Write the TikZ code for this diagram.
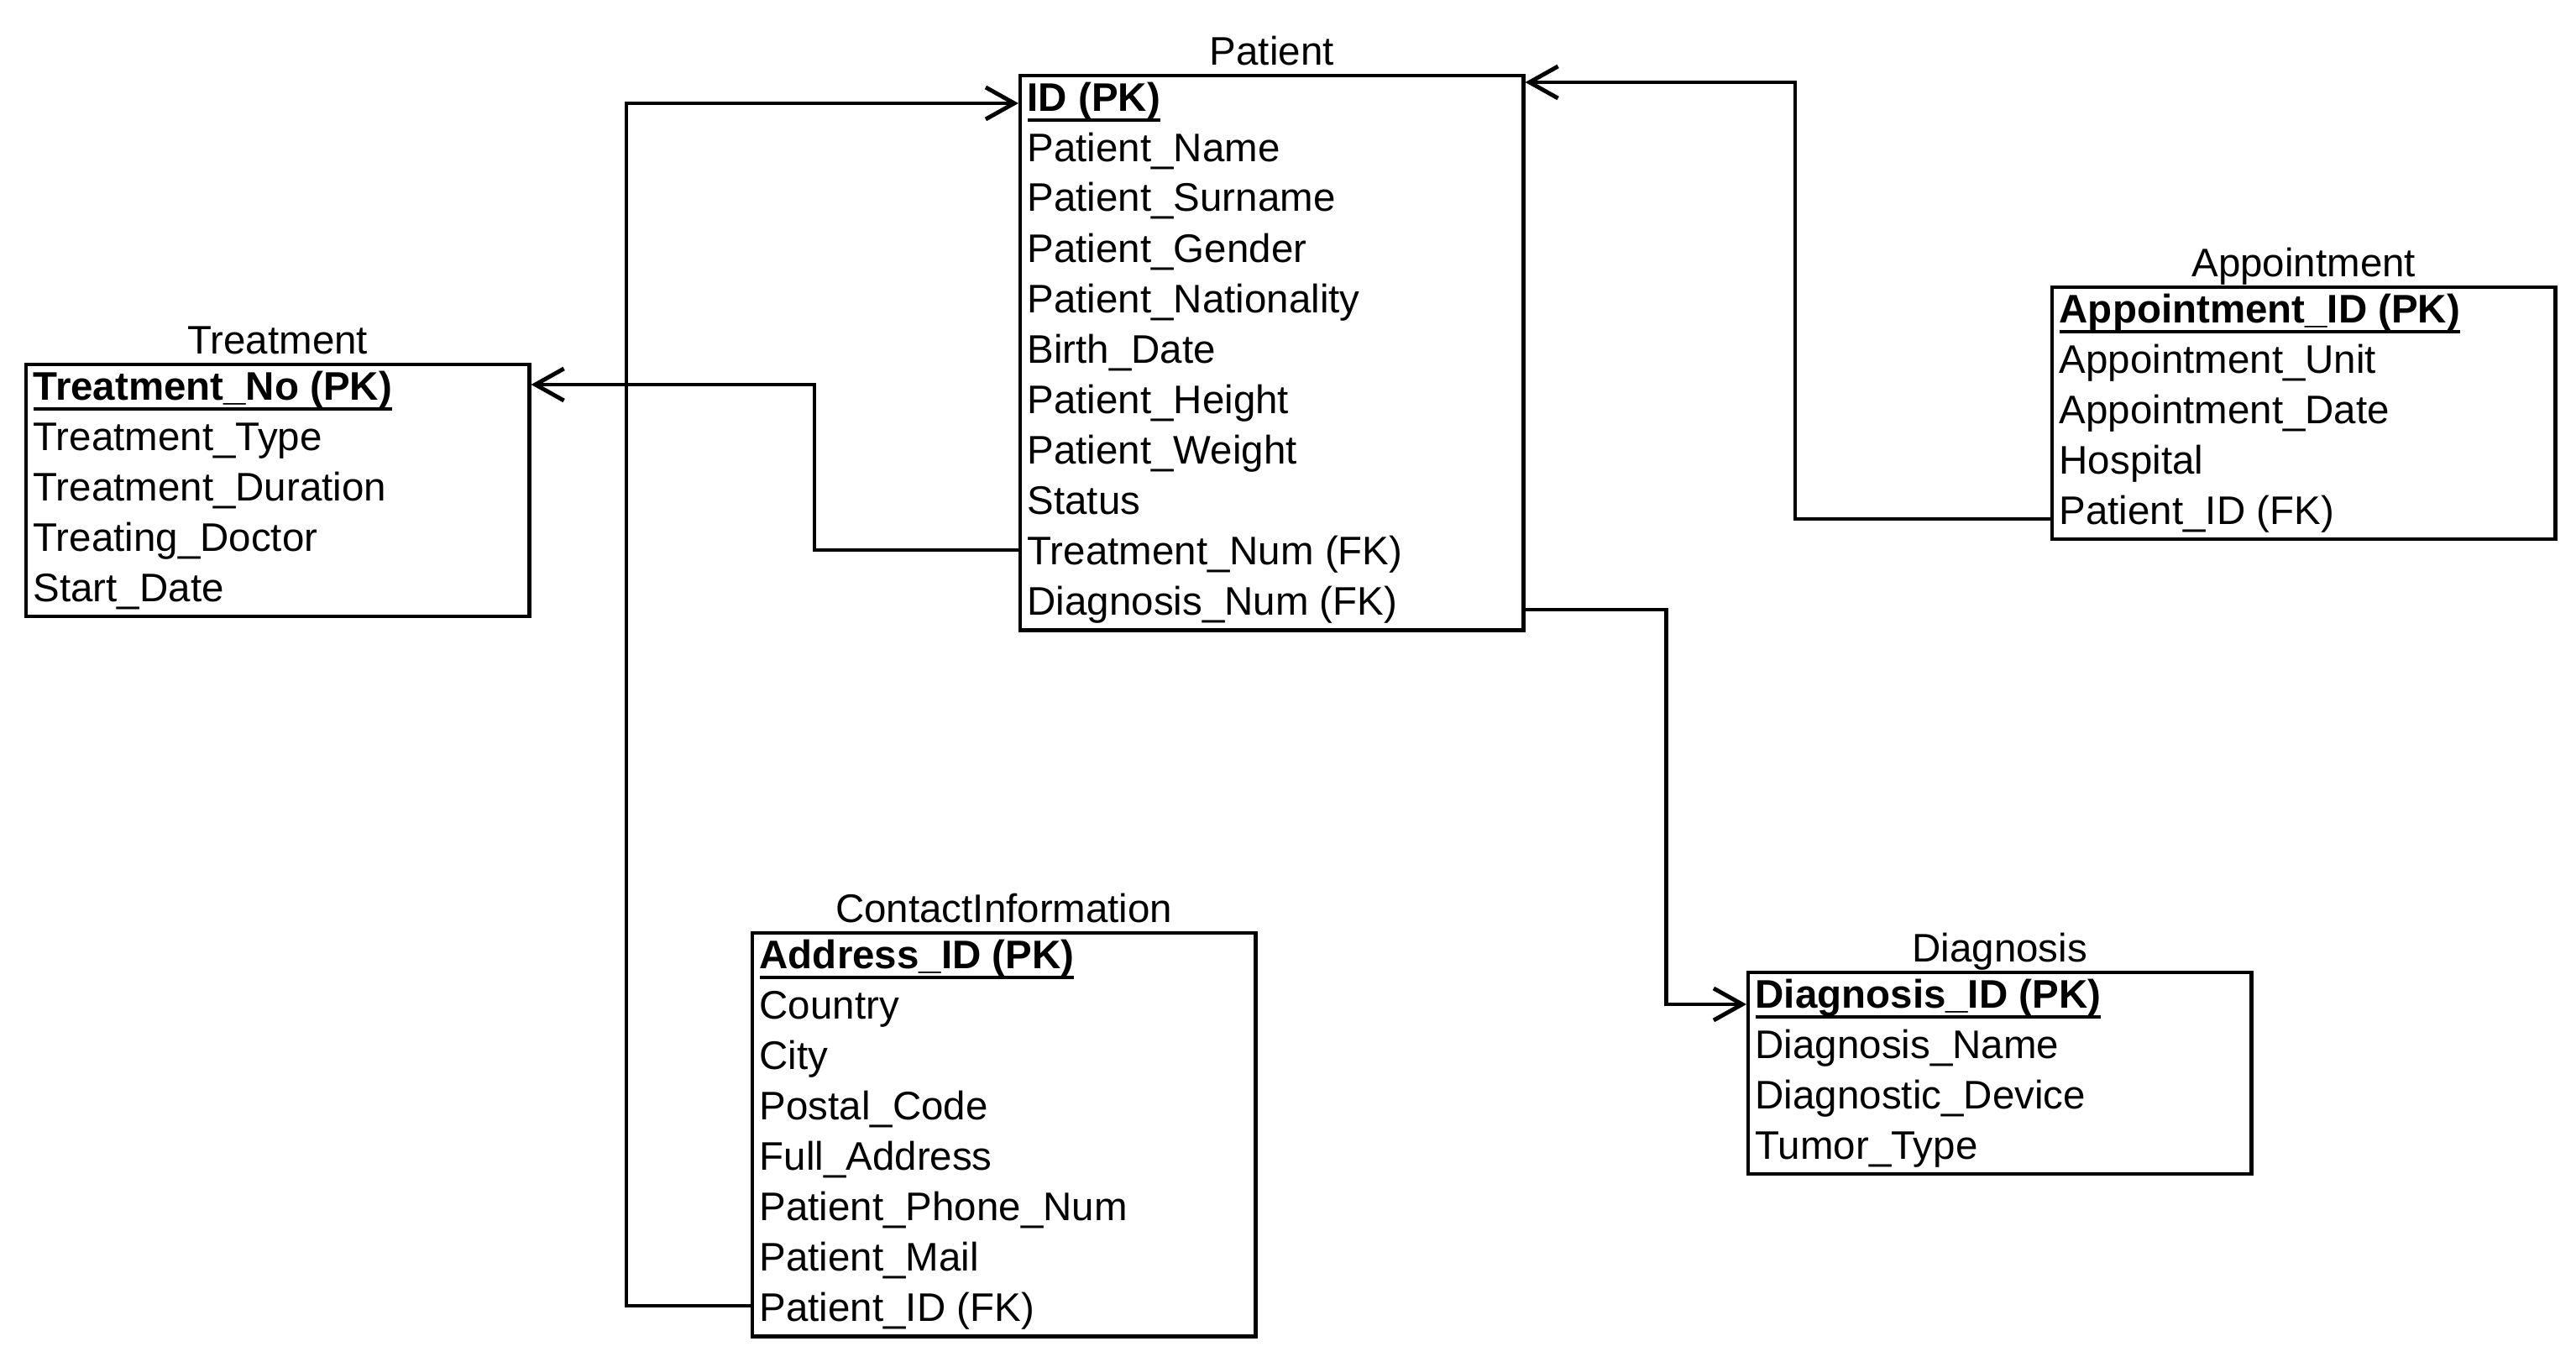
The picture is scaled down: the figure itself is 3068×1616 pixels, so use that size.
\documentclass[tikz,border=0pt]{standalone}
\usepackage{fontspec}
\setmainfont{Liberation Sans}
\usetikzlibrary{arrows.meta,calc}
\tikzset{
  x=0.01cm, y=-0.01cm,
  ebox/.style={draw, line width=1.2pt, minimum width=5.99cm, inner sep=0pt, anchor=north west},
  etitle/.style={anchor=base, inner sep=0pt, font=\fontsize{13.5}{16}\selectfont},
  erow/.style={anchor=west, inner sep=0pt, text height=0.34cm, text depth=0cm, font=\fontsize{13.5}{16}\selectfont},
  rel/.style={line width=1.4pt, -{Straight Barb[length=0.34cm,width=0.38cm]}}
}
\newcommand{\pkrow}[1]{\setbox0\hbox{\textbf{#1}}\rlap{\rule[-0.13cm]{\wd0}{1.2pt}}\box0}
\begin{document}
\begin{tikzpicture}
\useasboundingbox (0,0) rectangle (3068,1616);
% Patient
\node[ebox, minimum height=6.6cm] (P) at (1213,88) {};
\node[etitle] (Pt) at ($(P.north)+(0,-10)$) {Patient};
\node[erow] (P-1) at ($(P.north west)+(10,27)$) {\pkrow{ID (PK)}};
\foreach \t [count=\i from 2] in {Patient\_Name,Patient\_Surname,Patient\_Gender,Patient\_Nationality,Birth\_Date,Patient\_Height,Patient\_Weight,Status,Treatment\_Num (FK),Diagnosis\_Num (FK)}
  \node[erow] (P-\i) at ($(P.north west)+(10,{27+60*(\i-1)})$) {\t};
% Treatment
\node[ebox, minimum height=3cm] (T) at (29,432) {};
\node[etitle] (Tt) at ($(T.north)+(0,-10)$) {Treatment};
\node[erow] (T-1) at ($(T.north west)+(10,27)$) {\pkrow{Treatment\_No (PK)}};
\foreach \t [count=\i from 2] in {Treatment\_Type,Treatment\_Duration,Treating\_Doctor,Start\_Date}
  \node[erow] (T-\i) at ($(T.north west)+(10,{27+60*(\i-1)})$) {\t};
% Appointment
\node[ebox, minimum height=3cm] (A) at (2442,340) {};
\node[etitle] (At) at ($(A.north)+(0,-10)$) {Appointment};
\node[erow] (A-1) at ($(A.north west)+(10,27)$) {\pkrow{Appointment\_ID (PK)}};
\foreach \t [count=\i from 2] in {Appointment\_Unit,Appointment\_Date,Hospital,Patient\_ID (FK)}
  \node[erow] (A-\i) at ($(A.north west)+(10,{27+60*(\i-1)})$) {\t};
% ContactInformation
\node[ebox, minimum height=4.8cm] (C) at (894,1109) {};
\node[etitle] (Ct) at ($(C.north)+(0,-10)$) {ContactInformation};
\node[erow] (C-1) at ($(C.north west)+(10,27)$) {\pkrow{Address\_ID (PK)}};
\foreach \t [count=\i from 2] in {Country,City,Postal\_Code,Full\_Address,Patient\_Phone\_Num,Patient\_Mail,Patient\_ID (FK)}
  \node[erow] (C-\i) at ($(C.north west)+(10,{27+60*(\i-1)})$) {\t};
% Diagnosis
\node[ebox, minimum height=2.4cm] (D) at (2080,1156) {};
\node[etitle] (Dt) at ($(D.north)+(0,-10)$) {Diagnosis};
\node[erow] (D-1) at ($(D.north west)+(10,27)$) {\pkrow{Diagnosis\_ID (PK)}};
\foreach \t [count=\i from 2] in {Diagnosis\_Name,Diagnostic\_Device,Tumor\_Type}
  \node[erow] (D-\i) at ($(D.north west)+(10,{27+60*(\i-1)})$) {\t};
% Relations
\draw[rel] ($(C.west |- C-8.west)+(0,-1)$) -- ++(-148,0) |- ($(P.west |- P-1.west)+(0,8)$);
\draw[rel] ($(P.west |- P-10.west)+(0,0)$) -- ++(-243,0) |- ($(T.east |- T-1.west)+(0,-1)$);
\draw[rel] ($(A.west |- A-5.west)+(0,11)$) -- ++(-304,0) |- ($(P.north east)+(0,10)$);
\draw[rel] ($(P.east |- P-11.west)+(0,11)$) -- ++(168,0) |- ($(D.west |- D-1.west)+(0,13)$);
\end{tikzpicture}
\end{document}
